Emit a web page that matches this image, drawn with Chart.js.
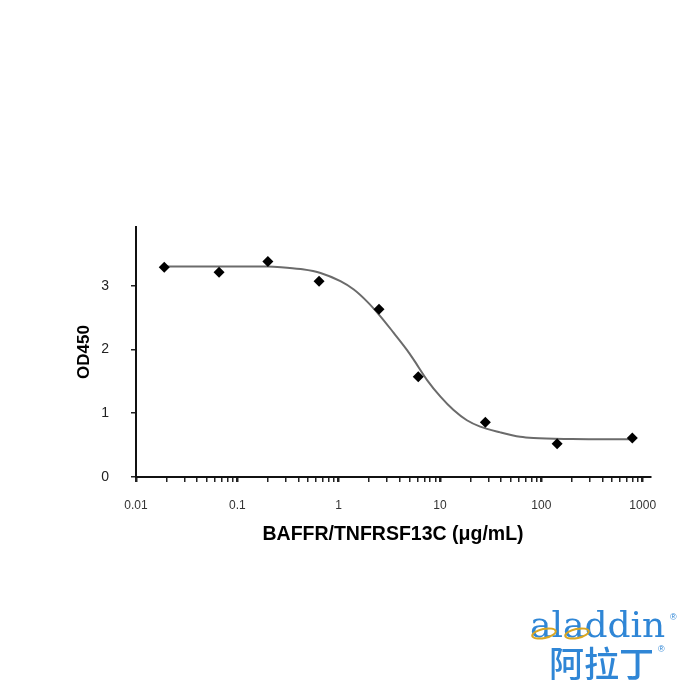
<!DOCTYPE html>
<html>
<head>
<meta charset="utf-8">
<script src="https://cdn.jsdelivr.net/npm/chart.js@4"></script>
<style>
    body { margin: 0; background: #fff; }
    #wrap { position: relative; width: 700px; height: 700px; }
    #chart { position: absolute; left: 0; top: 0; }
    .logo { position: absolute; color: #2f86d6; line-height: 1; white-space: nowrap; }
    #logoEn { left: 530px; top: 607px; font-family: "DejaVu Serif", serif; font-size: 36px; letter-spacing: 0px; }
    #logoCn { left: 549px; top: 644px; font-family: "Noto Sans CJK SC", sans-serif; font-size: 35px; font-weight: 500; }
    .reg { position: absolute; color: #2f86d6; font-family: "Liberation Sans", sans-serif; font-size: 9px; }
    .ring { position: absolute; width: 22px; height: 7px; border: 2.5px solid #d9a622; border-radius: 50%; transform: rotate(-12deg); }
</style>
</head>
<body>
<div id="wrap">
    <canvas id="chart" width="700" height="700"></canvas>
    <div class="logo" id="logoEn">aladdin</div>
    <div class="ring" style="left:531px; top:628px;"></div>
    <div class="ring" style="left:564px; top:628px;"></div>
    <div class="reg" style="left:670px; top:612px;">®</div>
    <div class="logo" id="logoCn">阿拉丁</div>
    <div class="reg" style="left:658px; top:644px;">®</div>
</div>
<script>
// measured points
const concentrations = [0.019, 0.066, 0.2, 0.64, 2.5, 6.1, 28, 143, 790];
const od450 = [3.29, 3.21, 3.38, 3.07, 2.63, 1.57, 0.86, 0.52, 0.61];

// fitted curve
const fitConc = [0.019, 0.066, 0.2, 0.27, 0.421, 0.662, 1.04, 1.41, 1.91, 2.58, 3.49, 4.73, 5.49, 7.45, 10.1, 13.6, 18.4, 24.9, 39.3, 61.8, 83.6, 200, 790];
const fitOD = [3.30, 3.30, 3.30, 3.29, 3.26, 3.20, 3.07, 2.94, 2.75, 2.52, 2.26, 1.99, 1.84, 1.52, 1.26, 1.05, 0.89, 0.79, 0.70, 0.63, 0.61, 0.595, 0.59];

const xTickLabels = ["0.01", "0.1", "1", "10", "100", "1000"];
const yTickLabels = [0, 1, 2, 3];

function isDecade(v) {
    const l = Math.log10(v);
    return Math.abs(l - Math.round(l)) < 1e-9;
}
function isLogTick(v) {
    const p = Math.pow(10, Math.floor(Math.log10(v) + 1e-9));
    const m = v / p;
    return Math.abs(m - Math.round(m)) < 1e-6 && Math.round(m) <= 9;
}

const ctx = document.getElementById("chart").getContext("2d");

new Chart(ctx, {
    type: "scatter",
    data: {
        datasets: [{
            label: "OD450",
            data: concentrations.map((c, i) => ({ x: c, y: od450[i] })),
            pointStyle: "rectRot",
            pointRadius: 5.5,
            backgroundColor: "#000",
            borderColor: "#000",
            borderWidth: 0,
            order: 0
        }, {
            label: "fit",
            data: fitConc.map((c, i) => ({ x: c, y: fitOD[i] })),
            showLine: true,
            pointRadius: 0,
            borderColor: "#6b6b6b",
            borderWidth: 2,
            cubicInterpolationMode: "monotone",
            order: 1
        }]
    },
    options: {
        responsive: false,
        animation: false,
        layout: { padding: { top: 227, right: 50, left: 0, bottom: 0 } },
        plugins: {
            legend: { display: false },
            tooltip: { enabled: false }
        },
        scales: {
            x: {
                type: "logarithmic",
                min: 0.01,
                max: 1180,
                border: { color: "#111", width: 2 },
                grid: {
                    drawOnChartArea: false,
                    tickLength: 5,
                    tickColor: c => (c.tick && isLogTick(c.tick.value)) ? "#222" : "rgba(0,0,0,0)",
                    lineWidth: c => (c.tick && isDecade(c.tick.value)) ? 2.5 : 1.5
                },
                ticks: {
                    autoSkip: false,
                    maxRotation: 0,
                    padding: 16,
                    color: "#333",
                    font: { family: "Liberation Sans", size: 12 },
                    callback: function (v) {
                        if (!isDecade(v)) return "";
                        const s = xTickLabels.find(t => Math.abs(parseFloat(t) - v) < 1e-9);
                        return s || "";
                    }
                },
                title: {
                    display: true,
                    text: "BAFFR/TNFRSF13C (μg/mL)",
                    color: "#000",
                    font: { family: "Liberation Sans", size: 19.5, weight: "bold" },
                    padding: { top: 0, bottom: 154 }
                },
                afterFit: s => { s.height = 223; }
            },
            y: {
                min: 0,
                max: 3.92,
                border: { color: "#111", width: 2 },
                grid: {
                    drawOnChartArea: false,
                    tickLength: 5,
                    tickColor: "#222",
                    lineWidth: 1.5
                },
                ticks: {
                    includeBounds: false,
                    stepSize: 1,
                    padding: 22,
                    color: "#222",
                    font: { family: "Liberation Sans", size: 14 },
                    callback: v => yTickLabels.includes(v) ? String(v) : ""
                },
                title: {
                    display: true,
                    text: "OD450",
                    color: "#000",
                    font: { family: "Liberation Sans", size: 17, weight: "bold" },
                    padding: { top: 74, bottom: 0 }
                },
                afterFit: s => { s.width = 136; }
            }
        }
    }
});
</script>
</body>
</html>
